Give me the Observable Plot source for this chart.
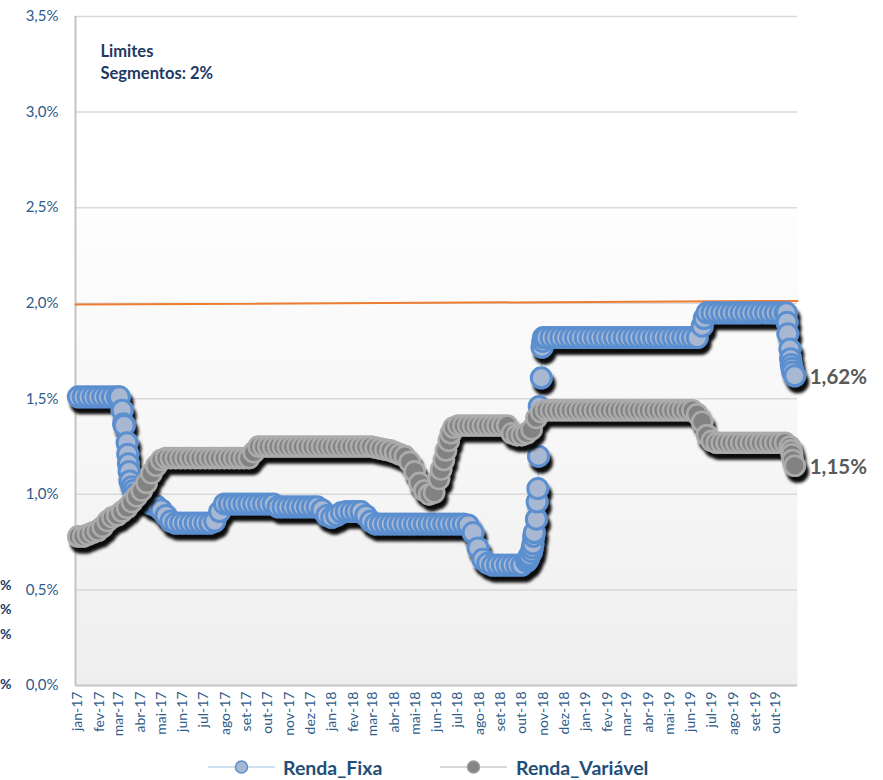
<!DOCTYPE html>
<html>
<head>
<meta charset="utf-8">
<script src="https://cdn.jsdelivr.net/npm/d3@7"></script>
<script src="https://cdn.jsdelivr.net/npm/@observablehq/plot@0.6"></script>
<style>
  html, body { margin: 0; padding: 0; background: #fff; }
  #wrap { position: relative; width: 883px; height: 780px; overflow: hidden; font-family: Lato, "Open Sans", sans-serif; }
  .leg { position: absolute; top: 754px; height: 26px; display: flex; align-items: center; }
  .leg span { font-weight: bold; font-size: 19.5px; color: #1f4e79; }
  .clip { position: absolute; left: 0px; font-weight: bold; font-size: 14px; color: #1f3864; white-space: nowrap; line-height: 1; }
</style>
</head>
<body>
<div id="wrap"></div>
<script>
// ---------- data (values in %) ----------
const weeklyStart = "2017-01-02"; // first weekly observation (Mondays)

const rendaFixaWeekly = [
  1.51,1.51,1.51,1.51,1.51,1.51,1.51,1.51,1.51,
  1.44,1.27,1.04,0.99,0.98,0.97,0.95,0.94,0.92,0.89,0.86,
  0.85,0.85,0.85,0.85,0.85,0.85,0.85,0.85,
  0.86,0.91,
  0.95,0.95,0.95,0.95,0.95,0.95,0.95,0.95,0.95,0.95,0.95,
  0.935,0.935,0.935,0.935,0.935,0.935,0.935,0.935,0.935,
  0.92,0.89,0.88,0.89,0.905,
  0.91,0.91,0.91,0.91,
  0.89,0.86,
  0.845,0.845,0.845,0.845,0.845,0.845,0.845,0.845,0.845,0.845,
  0.845,0.845,0.845,0.845,0.845,0.845,0.845,0.845,0.845,
  0.84,0.80,0.72,0.66,0.64,
  0.63,0.63,0.63,0.63,0.63,0.63,0.63,
  0.65,0.70,0.87,1.61,
  1.82,1.82,1.82,1.82,1.82,1.82,1.82,1.82,1.82,1.82,1.82,1.82,1.82,1.82,1.82,1.82,
  1.82,1.82,1.82,1.82,1.82,1.82,1.82,1.82,1.82,1.82,1.82,1.82,1.82,1.82,1.82,1.82,
  1.88,
  1.95,1.95,1.95,1.95,1.95,1.95,1.95,1.95,1.95,1.95,1.95,1.95,1.95,1.95,1.95,1.95,1.95,
  1.76,1.62
];
const rendaFixaExtraDates = [
  "2017-03-02","2017-03-08","2017-03-09","2017-03-14","2017-03-15","2017-03-16","2017-03-17","2017-03-22","2017-03-24",
  "2018-10-10","2018-10-11","2018-10-12","2018-10-16","2018-10-17","2018-10-18","2018-10-19",
  "2018-10-23","2018-10-24","2018-10-25","2018-10-26","2018-10-30","2018-10-31","2018-11-01",
  "2019-06-20",
  "2019-10-16","2019-10-17","2019-10-18","2019-10-22","2019-10-23","2019-10-24","2019-10-25"
];
const rendaFixaExtraValues = [
  1.51,1.37,1.36,1.21,1.16,1.12,1.07,1.02,1.00,
  0.66,0.67,0.68,0.72,0.74,0.78,0.80,
  0.96,1.03,1.20,1.46,1.77,1.80,1.82,
  1.92,
  1.95,1.90,1.84,1.71,1.68,1.66,1.64
];

const rendaVariavelWeekly = [
  0.78,0.78,0.79,0.80,0.81,0.83,0.86,0.88,0.89,0.91,0.93,0.96,0.99,1.02,1.06,1.11,1.15,1.18,
  1.19,1.19,1.19,1.19,1.19,1.19,1.19,1.19,1.19,1.19,1.19,1.19,1.19,1.19,1.19,1.19,1.19,1.19,
  1.22,
  1.25,1.25,1.25,1.25,1.25,1.25,1.25,1.25,1.25,1.25,1.25,1.25,
  1.25,1.25,1.25,1.25,1.25,1.25,1.25,1.25,1.25,1.25,1.25,1.25,
  1.245,1.24,1.235,1.23,1.22,1.21,1.20,1.17,1.12,1.06,1.02,1.00,1.01,1.08,1.18,1.28,1.35,
  1.36,1.36,1.36,1.36,1.36,1.36,1.36,1.36,1.36,1.36,1.36,
  1.32,1.31,1.31,1.32,1.34,1.40,1.43,
  1.44,1.44,1.44,1.44,1.44,1.44,1.44,1.44,1.44,1.44,1.44,1.44,1.44,1.44,1.44,1.44,
  1.44,1.44,1.44,1.44,1.44,1.44,1.44,1.44,1.44,1.44,1.44,1.44,1.44,1.44,1.44,
  1.42,1.38,1.31,1.28,
  1.27,1.27,1.27,1.27,1.27,1.27,1.27,1.27,1.27,1.27,1.27,1.27,1.27,1.27,1.27,
  1.25,1.15
];
const rendaVariavelExtraDates = ["2018-06-07","2018-06-14","2018-06-21","2019-10-23","2019-10-24","2019-10-25"];
const rendaVariavelExtraValues = [1.13,1.23,1.32,1.23,1.21,1.18];

const limiteDates = ["2016-12-29","2019-11-01"];
const limiteValues = [1.993, 2.012];

const monthLabels = ["jan","fev","mar","abr","mai","jun","jul","ago","set","out","nov","dez"];
const yTicks = [0, 0.5, 1.0, 1.5, 2.0, 2.5, 3.0, 3.5];
const xDomain = ["2016-12-29", "2019-11-01"];
const firstTick = "2017-01-01", lastTick = "2019-10-02";

const seriesNames = ["Renda_Fixa", "Renda_Variável"];
const limitText = ["Limites", "Segmentos: 2%"];

// ---------- build tables ----------
const parse = s => new Date(s + "T00:00:00Z");
function build(weekly, exDates, exVals) {
  const s = parse(weeklyStart);
  const rows = weekly.map((v, i) => ({date: d3.utcDay.offset(s, 7 * i), value: v}));
  exDates.forEach((d, j) => rows.push({date: parse(d), value: exVals[j]}));
  return rows.sort((a, b) => a.date - b.date);
}
const rf = build(rendaFixaWeekly, rendaFixaExtraDates, rendaFixaExtraValues);
const rv = build(rendaVariavelWeekly, rendaVariavelExtraDates, rendaVariavelExtraValues);
const lim = limiteDates.map((d, i) => ({date: parse(d), value: limiteValues[i]}));
const rfLast = rf[rf.length - 1], rvLast = rv[rv.length - 1];

const pct = (v, k = 1) => v.toFixed(k).replace(".", ",") + "%";
const monthTicks = d3.utcMonth.range(parse(firstTick), parse(lastTick));
const monthFmt = d => monthLabels[d.getUTCMonth()] + "-" + String(d.getUTCFullYear()).slice(2);

const axisBlue = "#2e5b8a";

const chart = Plot.plot({
  width: 883,
  height: 745,
  marginLeft: 75,
  marginRight: 86,
  marginTop: 16,
  marginBottom: 60,
  style: {fontFamily: "Lato, 'Open Sans', sans-serif", background: "transparent", overflow: "visible"},
  x: {type: "utc", domain: xDomain.map(parse)},
  y: {domain: [0, 3.5]},
  marks: [
    Plot.frame({fill: "url(#bgGrad)", stroke: "none"}),
    Plot.gridY(yTicks.slice(1), {stroke: "#d9d9d9", strokeOpacity: 1, strokeWidth: 1.5}),
    Plot.ruleY([0], {stroke: "#c4c4c4", strokeWidth: 2}),
    Plot.ruleX([parse(xDomain[0])], {stroke: "#c4c4c4", strokeWidth: 2}),
    Plot.axisY({ticks: yTicks, tickFormat: v => pct(v), tickSize: 0, tickPadding: 17, fontSize: 15, fill: axisBlue, label: null}),
    Plot.axisX({ticks: monthTicks, tickFormat: monthFmt, tickRotate: -90, tickSize: 0, tickPadding: 6, fontSize: 14, fill: axisBlue, label: null}),
    Plot.line(lim, {x: "date", y: "value", stroke: "#ed7d31", strokeWidth: 2}),
    Plot.line(rf, {x: "date", y: "value", stroke: "#9dc3e6", strokeWidth: 1}),
    Plot.dot(rf, {x: "date", y: "value", r: 10, fill: "#a9b8d2", stroke: "#5b8fcf", strokeWidth: 3}),
    Plot.line(rv, {x: "date", y: "value", stroke: "#b0b0b0", strokeWidth: 1}),
    Plot.dot(rv, {x: "date", y: "value", r: 10, fill: "#828282", stroke: "#ababab", strokeWidth: 2.6}),
    Plot.text([rfLast], {x: "date", y: "value", text: d => pct(d.value, 2), dx: 15, dy: 2, textAnchor: "start", fontWeight: "bold", fontSize: 20.5, fill: "#595959"}),
    Plot.text([rvLast], {x: "date", y: "value", text: d => pct(d.value, 2), dx: 15, dy: 2, textAnchor: "start", fontWeight: "bold", fontSize: 20.5, fill: "#595959"}),
    Plot.text([limitText[0]], {frameAnchor: "top-left", text: d => d, dx: 25, dy: 29, textAnchor: "start", fontWeight: "bold", fontSize: 16.5, fill: "#1f3864"}),
    Plot.text([limitText[1]], {frameAnchor: "top-left", text: d => d, dx: 25, dy: 51, textAnchor: "start", fontWeight: "bold", fontSize: 16.5, fill: "#1f3864"})
  ]
});

// defs: background gradient + drop shadow
const svg = d3.select(chart);
const defs = svg.insert("defs", ":first-child");
const g = defs.append("linearGradient").attr("id", "bgGrad").attr("x1", 0).attr("y1", 0).attr("x2", 0).attr("y2", 1);
g.append("stop").attr("offset", "0%").attr("stop-color", "#ffffff");
g.append("stop").attr("offset", "22%").attr("stop-color", "#ffffff");
g.append("stop").attr("offset", "100%").attr("stop-color", "#efefef");
const f = defs.append("filter").attr("id", "shadow").attr("x", "-5%").attr("y", "-10%").attr("width", "115%").attr("height", "130%");
f.append("feDropShadow").attr("dx", 3).attr("dy", 6).attr("stdDeviation", 1.6).attr("flood-color", "#000").attr("flood-opacity", 0.95);
svg.selectAll('g[aria-label="dot"]').attr("filter", "url(#shadow)");

const wrap = document.getElementById("wrap");
wrap.appendChild(chart);

// legend
function legendItem(left, textLeft, lineColor, fill, stroke, name) {
  const d = document.createElement("div");
  d.className = "leg";
  d.style.left = left + "px";
  const w = textLeft - left;
  d.innerHTML = `<svg width="${w}" height="26"><line x1="0" x2="67" y1="13" y2="13" stroke="${lineColor}" stroke-width="1"/>` +
    `<circle cx="33.5" cy="13" r="6" fill="${fill}" stroke="${stroke}" stroke-width="1.5"/></svg><span>${name}</span>`;
  wrap.appendChild(d);
}
legendItem(208, 283, "#9dc3e6", "#a9b8d2", "#5b8fcf", seriesNames[0]);
legendItem(440, 516, "#b0b0b0", "#858585", "#9a9a9a", seriesNames[1]);

// fragments of labels visible at the left edge
[578, 602, 627, 677].forEach(top => {
  const s = document.createElement("div");
  s.className = "clip";
  s.style.top = top + "px";
  s.textContent = "%";
  wrap.appendChild(s);
});
</script>
</body>
</html>
